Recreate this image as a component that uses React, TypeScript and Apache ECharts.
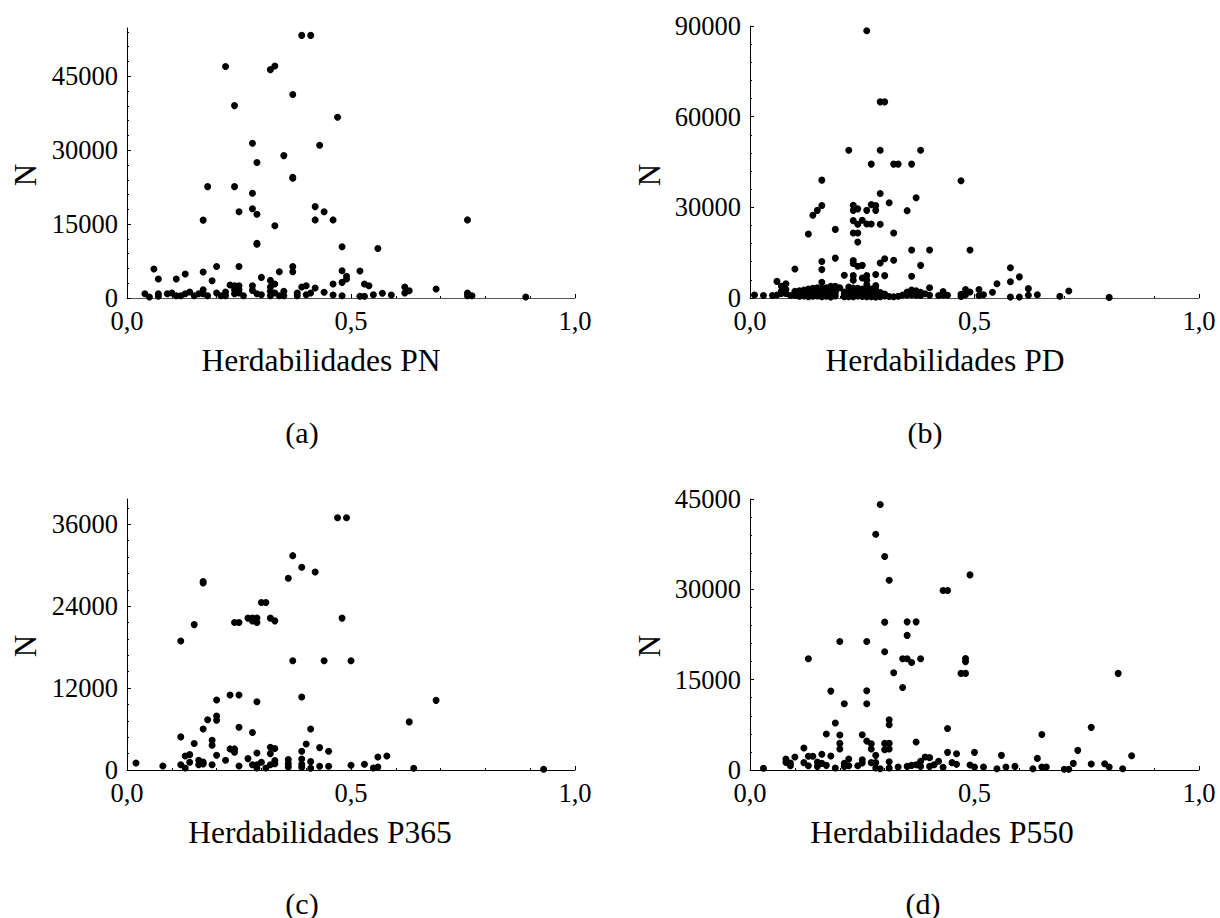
import React, { useEffect, useRef } from "react";
import * as echarts from "echarts";

type P = [number, number];

const pnPoints: P[] = [
  [.39,53300],[.41,53300],[.22,47000],[.32,46350],[.33,47100],[.37,41300],[.24,39050],[.47,36700],[.28,31400],[.43,31000],
  [.35,28900],[.29,27500],[.37,24500],[.37,24300],[.18,22600],[.24,22600],[.28,21250],[.42,18550],[.28,18100],[.25,17500],[.44,17500],
  [.29,17000],[.17,15800],[.42,15850],[.46,15850],[.76,15850],[.33,14650],[.29,10900],[.29,11100],[.48,10400],[.56,10050],
  [.06,5870],[.07,3850],[.11,3850],[.13,4860],[.17,5260],[.20,6400],[.25,6400],[.37,6400],[.37,5330],[.34,5330],[.48,5530],[.52,5470],
  [.19,3500],[.30,4180],[.32,3570],[.49,4390],[.49,3850],[.48,3170],[.46,2830],[.53,2830],[.54,2500],[.23,2630],[.24,2500],[.25,2500],
  [.28,2500],[.33,2830],[.40,2500],[.39,2230],[.42,2020],[.62,2230],[.62,1000],[.63,1480],[.69,1820],[.04,880],[.05,200],[.07,880],
  [.07,340],[.09,880],[.10,1000],[.11,470],[.12,470],[.13,880],[.14,1210],[.15,470],[.16,880],[.17,1690],[.17,880],[.18,470],[.20,1000],
  [.22,1210],[.21,470],[.22,470],[.24,1690],[.24,880],[.25,1690],[.25,1000],[.26,470],[.28,1550],[.29,880],[.30,670],[.32,2230],[.32,1350],
  [.32,470],[.33,1000],[.34,470],[.35,1350],[.35,470],[.38,1000],[.38,470],[.40,670],[.41,1000],[.44,1150],[.46,600],[.48,470],[.52,340],
  [.53,340],[.55,670],[.57,950],[.59,600],[.76,1000],[.76,470],[.77,470],[.89,200],
];

const pdPoints: P[] = [
  [.26,88400],[.29,64900],[.30,64900],[.22,48900],[.29,48900],[.38,48900],[.27,44300],[.32,44300],[.33,44300],[.36,44300],[.16,39000],
  [.47,38800],[.29,34600],[.37,33200],[.31,31500],[.16,30600],[.15,29000],[.14,27400],[.23,30700],[.23,29000],[.24,29500],[.27,30900],
  [.26,29000],[.28,30600],[.28,29000],[.35,28900],[.23,25600],[.25,25700],[.24,24400],[.26,24500],[.27,24500],[.29,24400],[.19,22700],
  [.13,21200],[.23,21500],[.24,21500],[.32,21500],[.24,18500],[.36,15900],[.40,15900],[.49,15900],[.19,13200],[.23,12400],[.30,13000],
  [.32,12500],[.29,11600],[.16,12100],[.16,9400],[.23,11400],[.24,10500],[.25,10800],[.38,10800],[.10,9600],[.58,10000],[.60,7000],
  [.58,5400],[.36,7200],[.30,7400],[.28,7800],[.21,7500],[.23,7400],[.26,7400],[.25,6600],[.23,5900],[.26,5900],[.06,5500],[.08,4700],
  [.07,3900],[.16,5200],[.26,4400],[.28,4100],[.40,3400],[.55,4700],[.62,3100],[.71,2300],[.54,1900],[.48,2800],[.51,2800],[.49,2000],
  [.43,2100],[.64,1100],[.62,900],[.69,550],[.58,300],[.60,300],[.80,200],[.52,1100],[.51,800],[.47,1200],[.47,500],[.48,1100],[.44,900],
  [.42,800],[.43,1000],[.40,900],[.01,1000],[.03,800],[.05,800],[.06,1000],[.07,1500],[.07,2300],[.08,1500],[.08,2800],[.09,800],[.10,2200],
  [.10,800],[.11,1200],[.12,1500],[.12,700],[.13,2000],[.13,1000],[.14,3200],[.14,1500],[.14,600],[.15,3000],[.15,2000],[.15,700],[.16,3200],
  [.16,2000],[.16,1000],[.17,2500],[.17,1300],[.17,600],[.18,3900],[.18,2500],[.18,1000],[.19,3900],[.19,2500],[.19,700],[.20,3400],[.21,2000],
  [.21,800],[.22,3600],[.22,2200],[.22,800],[.23,3300],[.23,1000],[.24,3200],[.24,1500],[.24,700],[.25,3000],[.25,1200],[.26,3300],[.26,2000],
  [.26,900],[.27,3000],[.27,1700],[.27,800],[.28,2900],[.28,1500],[.28,600],[.29,1000],[.30,700],[.31,500],[.32,400],[.33,600],[.34,1000],
  [.35,2000],[.35,1000],[.36,2600],[.36,1100],[.37,2400],[.37,900],[.38,1900],[.38,800],[.39,1400],
  [.11,2400],[.11,600],[.12,2600],[.13,3000],[.13,400],[.14,2400],[.15,1200],[.15,3400],[.16,400],[.17,1900],[.17,3400],[.18,1800],[.18,300],
  [.19,1800],[.19,3200],[.21,1300],[.21,400],[.22,1500],[.22,400],[.23,2300],[.23,400],[.24,2500],[.25,2200],[.25,500],[.26,1500],[.26,400],
  [.27,2400],[.27,400],[.28,2200],[.28,300],[.29,1800],[.29,400],[.30,1300],
];

const p365Points: P[] = [
  [.47,36950],[.49,36950],[.37,31400],[.39,29700],[.42,29000],[.36,28100],[.17,27600],[.17,27400],[.30,24550],[.31,24550],[.27,22250],[.28,22250],
  [.29,22250],[.32,22250],[.48,22250],[.28,21850],[.33,21850],[.24,21600],[.25,21600],[.29,21600],[.15,21300],[.12,18900],[.37,16000],
  [.44,16000],[.50,16000],[.23,11000],[.25,11000],[.20,10250],[.29,10000],[.39,10700],[.69,10200],[.63,7050],[.20,7900],[.20,7300],
  [.18,7350],[.17,6000],[.25,6270],[.41,6000],[.28,5500],[.12,4850],[.19,4360],[.19,3630],[.15,3870],[.40,3820],[.43,3280],[.45,2740],
  [.23,3090],[.24,3090],[.24,2600],[.29,2500],[.32,3330],[.33,3140],[.32,2400],[.39,2740],[.13,2060],[.14,2250],[.20,2150],[.56,1900],
  [.58,2060],[.27,1670],[.14,1130],[.16,1420],[.17,1180],[.16,780],[.17,880],[.22,1420],[.02,1030],[.08,590],[.12,780],[.13,290],[.19,780],
  [.25,590],[.28,780],[.29,780],[.30,1130],[.29,290],[.31,290],[.32,780],[.33,1370],[.33,930],[.36,1520],[.36,930],[.36,440],[.39,1620],
  [.39,830],[.39,390],[.41,1230],[.41,250],[.43,540],[.45,540],[.50,690],[.53,830],[.55,290],[.56,440],[.64,250],[.93,100],
];

const p550Points: P[] = [
  [.29,44100],[.28,39150],[.30,35450],[.31,31500],[.49,32400],[.43,29800],[.44,29800],[.30,24550],[.35,24600],[.37,24600],[.35,22350],
  [.20,21350],[.26,21350],[.30,19630],[.13,18470],[.34,18470],[.35,18470],[.38,18470],[.36,17860],[.48,18500],[.48,18000],[.32,16150],
  [.47,16040],[.48,16040],[.82,16040],[.34,13700],[.18,13100],[.26,13160],[.21,11000],[.26,11000],[.31,8350],[.31,7500],[.19,7800],[.44,6900],
  [.76,7080],[.17,5970],[.20,5800],[.25,5860],[.65,5900],[.26,4800],[.27,4370],[.37,4650],[.20,4420],[.20,3480],[.30,4420],[.31,4420],
  [.30,3370],[.31,3480],[.27,3480],[.12,3650],[.50,2930],[.44,2930],[.46,2710],[.73,3260],[.85,2380],[.56,2430],[.28,2430],[.16,2600],
  [.18,2320],[.10,2160],[.13,2270],[.14,2270],[.08,1820],[.08,1270],[.09,1160],[.09,720],[.12,1220],[.13,720],[.15,1330],[.16,1100],[.15,600],
  [.17,770],[.19,330],[.21,1100],[.21,600],[.22,1820],[.22,720],[.24,720],[.25,1710],[.25,1160],[.27,1220],[.28,1220],[.28,330],[.29,220],
  [.31,1380],[.31,330],[.33,500],[.35,600],[.36,770],[.37,880],[.38,1440],[.38,600],[.39,2160],[.40,2050],[.40,600],[.41,880],[.42,1440],
  [.43,440],[.45,1220],[.46,940],[.49,830],[.50,500],[.52,500],[.55,220],[.57,500],[.59,600],[.63,220],[.64,1930],[.65,500],[.66,500],
  [.70,110],[.71,110],[.72,1100],[.76,1000],[.79,1050],[.80,500],[.83,220],[.03,280],
];

const xLabels = ["Herdabilidades PN", "Herdabilidades PD", "Herdabilidades P365", "Herdabilidades P550"];
const captions = ["(a)", "(b)", "(c)", "(d)"];
const yLabel = "N";
const majorSteps = [15000, 30000, 12000, 15000];
const yMaxima = [54800, 90000, 39700, 45000];
const seriesPoints = [pnPoints, pdPoints, p365Points, p550Points];

const FONT = "'Liberation Serif', 'Times New Roman', serif";

const frames = [
  { left: 127, top: 28, width: 448, height: 270, titleX: 321, titleY: 360, capX: 302, capY: 432, nX: 25, nY: 175, axis: "#555" },
  { left: 750, top: 26, width: 449, height: 272, titleX: 945, titleY: 360, capX: 925, capY: 432, nX: 649, nY: 175, axis: "#555" },
  { left: 127, top: 499, width: 448, height: 271, titleX: 320, titleY: 832, capX: 302, capY: 903, nX: 25, nY: 646, axis: "#000" },
  { left: 750, top: 499, width: 449, height: 271, titleX: 942, titleY: 832, capX: 923, capY: 903, nX: 649, nY: 646, axis: "#000" },
];

function ticksUpTo(step: number, max: number): number[] {
  const out: number[] = [];
  for (let v = 0; v <= max + 1e-6; v += step) out.push(v);
  return out;
}

export default function App() {
  const ref = useRef<HTMLDivElement>(null);
  useEffect(() => {
    document.body.style.margin = "0";
    const chart = echarts.init(ref.current!, undefined, { renderer: "svg" });
    const grid: any[] = [];
    const xAxis: any[] = [];
    const yAxis: any[] = [];
    const series: any[] = [];
    const graphic: any[] = [];
    frames.forEach((f, i) => {
      grid.push({ left: f.left, top: f.top, width: f.width, height: f.height, containLabel: false });
      xAxis.push({
        type: "value", gridIndex: i, min: 0, max: 1, interval: 0.5, position: "bottom",
        splitLine: { show: false },
        axisLine: { show: true, onZero: false, lineStyle: { color: f.axis, width: 1 } },
        axisTick: { show: true, inside: true, length: 4, lineStyle: { color: "#000", width: 1 } },
        minorTick: { show: true, splitNumber: 5, length: 2, lineStyle: { color: "#000", width: 1 } },
        minorSplitLine: { show: false },
        axisLabel: {
          show: true, margin: 14, lineHeight: 18, color: "#000", fontFamily: FONT, fontSize: 26.5, hideOverlap: false,
          formatter: (v: number) => v.toFixed(1).replace(".", ","),
        },
      });
      const major = ticksUpTo(majorSteps[i], yMaxima[i]);
      const minor = ticksUpTo(majorSteps[i] / 5, yMaxima[i]);
      yAxis.push({
        type: "value", gridIndex: i, min: 0, max: yMaxima[i], position: "left",
        splitLine: { show: false },
        axisLine: { show: true, onZero: false, lineStyle: { color: "#000", width: 1 } },
        axisTick: { show: true, inside: true, length: 4, customValues: major, lineStyle: { color: "#000", width: 1 } },
        axisLabel: {
          show: true, margin: 9, lineHeight: 18, color: "#000", fontFamily: FONT, fontSize: 26.5, customValues: major, hideOverlap: false,
          formatter: (v: number) => String(v),
        },
      });
      yAxis.push({
        type: "value", gridIndex: i, min: 0, max: yMaxima[i], position: "left",
        splitLine: { show: false },
        axisLine: { show: false, onZero: false },
        axisTick: { show: true, inside: true, length: 2, customValues: minor, lineStyle: { color: "#000", width: 1 } },
        axisLabel: { show: false },
      });
      series.push({
        type: "scatter", xAxisIndex: i, yAxisIndex: i * 2, symbol: "circle", symbolSize: 7,
        itemStyle: { color: "#000", opacity: 1 }, data: seriesPoints[i], z: 5,
      });
      const txt = (text: string, x: number, y: number, fontSize: number, rotation = 0) => ({
        type: "text", x, y, rotation,
        style: { text, fontFamily: FONT, fontSize, fill: "#000", textAlign: "center", textVerticalAlign: "middle" },
      });
      graphic.push(txt(xLabels[i], f.titleX, f.titleY, 31.5));
      graphic.push(txt(captions[i], f.capX, f.capY, 30));
      graphic.push(txt(yLabel, f.nX, f.nY, 31, Math.PI / 2));
    });
    chart.setOption({
      animation: false, backgroundColor: "#fff", tooltip: { show: false }, legend: { show: false },
      grid, xAxis, yAxis, series, graphic,
    });
    return () => chart.dispose();
  }, []);
  return <div ref={ref} style={{ display: "block", width: 1220, height: 918 }} />;
}
